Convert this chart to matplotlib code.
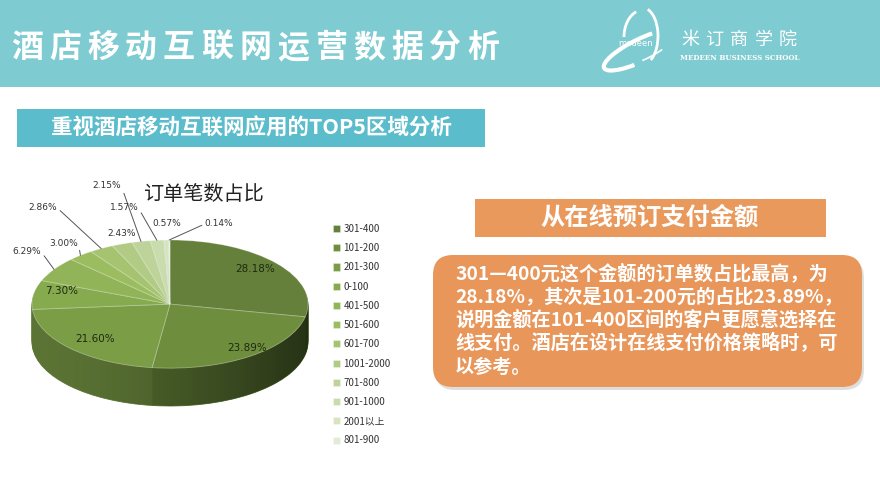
import numpy as np
import matplotlib
matplotlib.use('Agg')
import matplotlib.pyplot as plt
from matplotlib.patches import Rectangle, FancyBboxPatch, Polygon, Arc

plt.rcParams['font.family'] = ['Noto Sans CJK SC', 'DejaVu Sans']

# data
categories = ['301-400', '101-200', '201-300', '0-100', '401-500', '501-600',
              '601-700', '1001-2000', '701-800', '901-1000', '2001以上', '801-900']
shares = [28.18, 23.89, 21.60, 7.30, 6.29, 3.00, 2.86, 2.43, 2.15, 1.57, 0.57, 0.14]
slice_colors = ['#64803a', '#6e8e3d', '#7b9d46', '#86aa4e', '#90b457', '#9bbd5f',
                '#a6c470', '#b1cb84', '#bdd399', '#c9dcad', '#d6e4c2', '#e1ebd5']

title = '酒店移动互联网运营数据分析'
subtitle = '重视酒店移动互联网应用的TOP5区域分析'
chart_title = '订单笔数占比'
box_title = '从在线预订支付金额'
box_lines = ['301—400元这个金额的订单数占比最高，为',
             '28.18%，其次是101-200元的占比23.89%，',
             '说明金额在101-400区间的客户更愿意选择在',
             '线支付。酒店在设计在线支付价格策略时，可',
             '以参考。']

W, H = 880, 495
fig = plt.figure(figsize=(W / 100, H / 100), dpi=100)

# background axes in pixel units
bg = fig.add_axes([0, 0, 1, 1])
bg.set_xlim(0, W)
bg.set_ylim(H, 0)
bg.axis('off')

# header band
bg.add_patch(Rectangle((0, 0), W, 87, color='#7ecbd1', lw=0))
for i, ch in enumerate(title):
    bg.text(27 + 38.0 * i, 48, ch, color='white', fontsize=23, fontweight='bold',
            ha='center', va='center')

# logo
bg.add_patch(Arc((643, 37), 38, 54, theta1=180, theta2=255, color='white', lw=2.0))
bg.add_patch(Arc((643, 36), 30, 56, theta1=-80, theta2=72, color='white', lw=2.0))
bg.add_patch(Arc((641, 48), 80, 24, angle=-26, theta1=30, theta2=110, color='white', lw=1.2))
bg.add_patch(Arc((641, 50), 82, 22, angle=-26, theta1=140, theta2=330, color='white', lw=3.0))
bg.text(636, 43, 'medeen', color='white', fontsize=6, ha='center', va='center',
        family=['DejaVu Sans'])
for i, ch in enumerate('米订商学院'):
    bg.text(690 + 24.5 * i, 40, ch, color='white', fontsize=13, ha='center', va='center')
bg.text(680, 58, 'MEDEEN BUSINESS SCHOOL', color='white', fontsize=5.1, fontweight='bold',
        ha='left', va='center', family=['DejaVu Serif'])

# subtitle
bg.add_patch(Rectangle((17, 109), 468, 38, color='#5bbccc', lw=0))
bg.text(251, 128, subtitle, color='white', fontsize=15.5, fontweight='bold',
        ha='center', va='center')

# right hand boxes
bg.add_patch(Rectangle((475, 199), 351, 38, color='#e9995b', lw=0))
bg.text(650, 218, box_title, color='white', fontsize=17.5, fontweight='bold',
        ha='center', va='center')
bg.add_patch(FancyBboxPatch((435, 258), 429, 132, boxstyle='round,pad=0,rounding_size=20',
                            fc='#c9c9c9', ec='none', alpha=0.6))
bg.add_patch(FancyBboxPatch((433, 255), 429, 132, boxstyle='round,pad=0,rounding_size=20',
                            fc='#e8965a', ec='none'))
for i, line in enumerate(box_lines):
    bg.text(455, 273 + 23.5 * i, line, color='white', fontsize=13.8, fontweight='bold',
            ha='left', va='center')

# chart title
bg.text(203, 195, chart_title, color='#222222', fontsize=14.5, ha='center', va='center')

# 3D-looking pie: squashed axes, wall built from stacked layers
depth = 0.59
pax = fig.add_axes([32 / W, (H - 406) / H, 276 / W, 166 / H])
wall_colors = [tuple(c * 0.78 for c in matplotlib.colors.to_rgb(col)) for col in slice_colors]
n_layers = 30
for k in range(n_layers, 0, -1):
    off = depth * k / n_layers
    ws, _ = pax.pie(shares, colors=wall_colors, startangle=90, counterclock=False,
                    center=(0, -off), wedgeprops=dict(lw=0.6))
    for w in ws:
        w.set_edgecolor(w.get_facecolor())

# shading of the side wall, darker to the right
t = np.linspace(np.pi, 2 * np.pi, 200)
wall_xy = np.vstack([np.column_stack([np.cos(t), np.sin(t)]),
                     np.column_stack([np.cos(t[::-1]), np.sin(t[::-1]) - depth])])
wall_clip = Polygon(wall_xy, closed=True, fc='none', ec='none')
pax.add_patch(wall_clip)
gx = np.linspace(0, 1, 256)
shade = np.zeros((2, 256, 4))
shade[..., 3] = 0.05 + 0.5 * gx ** 1.6
img = pax.imshow(shade, extent=(-1, 1, -1 - depth, 0), aspect='auto', zorder=5)
img.set_clip_path(wall_clip)

top, _ = pax.pie(shares, colors=slice_colors, startangle=90, counterclock=False,
                 wedgeprops=dict(lw=0.6, edgecolor=(1, 1, 1, 0.35)))
for w in top:
    w.set_zorder(6)
pax.set_aspect('auto')
pax.set_xlim(-1, 1)
pax.set_ylim(-1 - depth, 1)
pax.axis('off')

# labels on the top face (positions in pixels)
inside_pos = {0: (255, 269), 1: (247, 348), 2: (95, 339), 3: (62, 291)}
for i, (x, y) in inside_pos.items():
    bg.text(x, y, f'{shares[i]:.2f}%', fontsize=7.5, color='#1e2a10', ha='center',
            va='center', zorder=10, family=['DejaVu Sans'])
bg.set_zorder(pax.get_zorder() + 1)
bg.patch.set_visible(False)

# outside labels with leader lines
outside_pos = {4: (27, 252, True), 5: (64, 243, True), 6: (43, 208, True),
               7: (122, 233, False), 8: (107, 186, True), 9: (124, 208, True),
               10: (167, 224, False), 11: (219, 224, True)}
cum = np.cumsum([0] + shares)
for i, (x, y, leader) in outside_pos.items():
    mid = np.deg2rad(90 - 3.6 * (cum[i] + shares[i] / 2))
    label = f'{shares[i]:.2f}%'
    if leader:
        side = 0 if i == 11 else 1
        pax.annotate(label, xy=(np.cos(mid), np.sin(mid)), xytext=(x, y),
                     textcoords=bg.transData, fontsize=6.5, color='#333333',
                     ha='center', va='center', family=['DejaVu Sans'], zorder=10,
                     arrowprops=dict(arrowstyle='-', color='#555555', lw=0.7,
                                     shrinkA=0, shrinkB=0, relpos=(side, 0.5)),
                     annotation_clip=False)
    else:
        bg.text(x, y, label, fontsize=6.5, color='#333333', ha='center', va='center',
                family=['DejaVu Sans'])

fig.legend(top, categories, loc='upper left', bbox_to_anchor=(328 / W, 1 - 219 / H),
           frameon=False, fontsize=7, handlelength=0.75, handleheight=0.75,
           handletextpad=0.35, labelspacing=0.95, borderpad=0, labelcolor='#333333')

fig.savefig('out.png', dpi=100, facecolor='white')
